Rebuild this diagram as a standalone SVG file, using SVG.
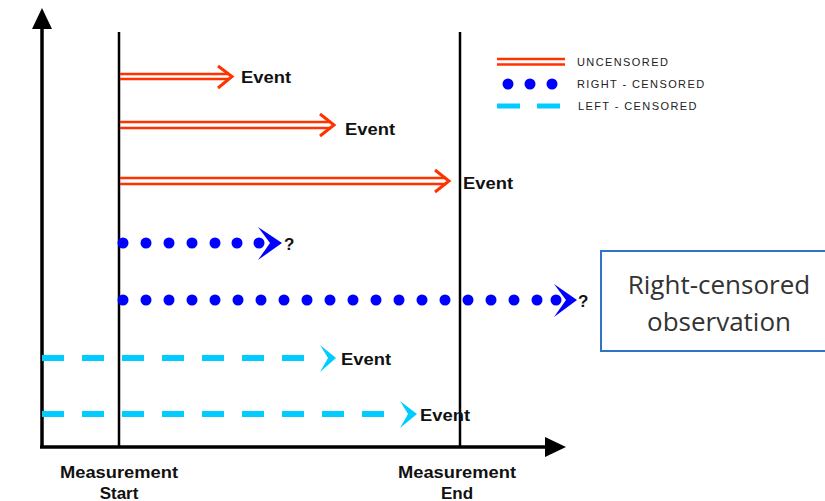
<svg xmlns="http://www.w3.org/2000/svg" width="825" height="501" viewBox="0 0 825 501">
<style>
.axis{stroke:#000;stroke-width:3.5;fill:none}
.mline{stroke:#000;stroke-width:2.5;fill:none}
.red{stroke:#FF3300;stroke-width:2.5;fill:none}
.redhead{stroke:#FF3300;stroke-width:3;fill:none;stroke-linejoin:miter}
.cyan{stroke:#00CCFF;stroke-width:6;fill:none;stroke-dasharray:22 18}
.cyanhead{fill:#00CCFF}
.dot{fill:#0000FF}
.bluehead{fill:#0000FF}
.lbl{font-family:"Liberation Sans",Arial,sans-serif;font-weight:bold;font-size:17px;fill:#111}
.leg{font-family:"Liberation Sans",Arial,sans-serif;font-size:11px;letter-spacing:1.4px;fill:#222}
.box{font-family:"Open Sans","Noto Sans",sans-serif;font-size:26px;fill:#333;text-anchor:middle}
</style>
<defs>
<circle id="d" r="5.5" class="dot"/>
</defs>
<g id="axes">
<line class="axis" x1="42" y1="26" x2="42" y2="448"/>
<polygon points="42,8 32,29 52,29" fill="#000"/>
<line class="axis" x1="40" y1="447" x2="548" y2="447"/>
<polygon points="566,447 545,437 545,457" fill="#000"/>
<line class="mline" x1="119" y1="32" x2="119" y2="447"/>
<line class="mline" x1="460" y1="32" x2="460" y2="447"/>
<text class="lbl" x="60" y="478" textLength="118" lengthAdjust="spacingAndGlyphs">Measurement</text>
<text class="lbl" x="119" y="499" text-anchor="middle">Start</text>
<text class="lbl" x="398" y="478" textLength="118" lengthAdjust="spacingAndGlyphs">Measurement</text>
<text class="lbl" x="457" y="499" text-anchor="middle">End</text>
</g>
<g id="connectors">
<g id="row1">
<line class="red" x1="120" y1="74" x2="229" y2="74"/>
<line class="red" x1="120" y1="79" x2="229" y2="79"/>
<polyline class="redhead" points="218,66 232,76.5 218,88"/>
</g>
<g id="row2">
<line class="red" x1="120" y1="122" x2="331" y2="122"/>
<line class="red" x1="120" y1="128" x2="331" y2="128"/>
<polyline class="redhead" points="320,114 334,125 320,136"/>
</g>
<g id="row3">
<line class="red" x1="120" y1="178" x2="446" y2="178"/>
<line class="red" x1="120" y1="184" x2="446" y2="184"/>
<polyline class="redhead" points="435,170 449,181 435,192"/>
</g>
<g id="row4">
<use href="#d" x="123" y="243"/><use href="#d" x="146" y="243"/><use href="#d" x="169" y="243"/><use href="#d" x="192" y="243"/><use href="#d" x="215" y="243"/><use href="#d" x="237" y="243"/><use href="#d" x="259" y="243"/>
<polygon class="bluehead" points="258,227 282,243 258,260 270,243"/>
</g>
<g id="row5">
<use href="#d" x="123" y="300"/><use href="#d" x="146" y="300"/><use href="#d" x="169" y="300"/><use href="#d" x="192" y="300"/><use href="#d" x="215" y="300"/><use href="#d" x="238" y="300"/><use href="#d" x="261" y="300"/><use href="#d" x="284" y="300"/><use href="#d" x="307" y="300"/><use href="#d" x="330" y="300"/><use href="#d" x="353" y="300"/><use href="#d" x="376" y="300"/><use href="#d" x="399" y="300"/><use href="#d" x="422" y="300"/><use href="#d" x="445" y="300"/><use href="#d" x="468" y="300"/><use href="#d" x="491" y="300"/><use href="#d" x="514" y="300"/><use href="#d" x="537" y="300"/><use href="#d" x="556" y="300"/>
<polygon class="bluehead" points="554,284 577,300 554,317 566,300"/>
</g>
<g id="row6">
<line class="cyan" x1="42" y1="358" x2="320" y2="358"/>
<polygon class="cyanhead" points="320,345 336,358 320,372 328,358"/>
</g>
<g id="row7">
<line class="cyan" x1="42" y1="414" x2="400" y2="414"/>
<polygon class="cyanhead" points="400,401 417,414 400,428 408,414"/>
</g>
</g>
<g id="labels">
<text class="lbl" x="241" y="83" textLength="50" lengthAdjust="spacingAndGlyphs">Event</text>
<text class="lbl" x="345" y="135" textLength="50" lengthAdjust="spacingAndGlyphs">Event</text>
<text class="lbl" x="463" y="189" textLength="50" lengthAdjust="spacingAndGlyphs">Event</text>
<text class="lbl" x="284" y="250">?</text>
<text class="lbl" x="578" y="307">?</text>
<text class="lbl" x="341" y="365" textLength="50" lengthAdjust="spacingAndGlyphs">Event</text>
<text class="lbl" x="420" y="421" textLength="50" lengthAdjust="spacingAndGlyphs">Event</text>
</g>
<g id="legend">
<line class="red" x1="497" y1="59" x2="565" y2="59"/>
<line class="red" x1="497" y1="64.5" x2="565" y2="64.5"/>
<text class="leg" x="577" y="66">UNCENSORED</text>
<use href="#d" x="508" y="84"/><use href="#d" x="530" y="84"/><use href="#d" x="552" y="84"/>
<text class="leg" x="577" y="88">RIGHT - CENSORED</text>
<line x1="497" y1="106" x2="520" y2="106" stroke="#00CCFF" stroke-width="5"/>
<line x1="537" y1="106" x2="560" y2="106" stroke="#00CCFF" stroke-width="5"/>
<text class="leg" x="578" y="110">LEFT - CENSORED</text>
</g>
<g id="callout">
<rect x="601" y="251" width="230" height="100" fill="#fff" stroke="#2E75C6" stroke-width="2"/>
<text class="box" x="719" y="294">Right-censored</text>
<text class="box" x="719" y="331">observation</text>
</g>
</svg>
